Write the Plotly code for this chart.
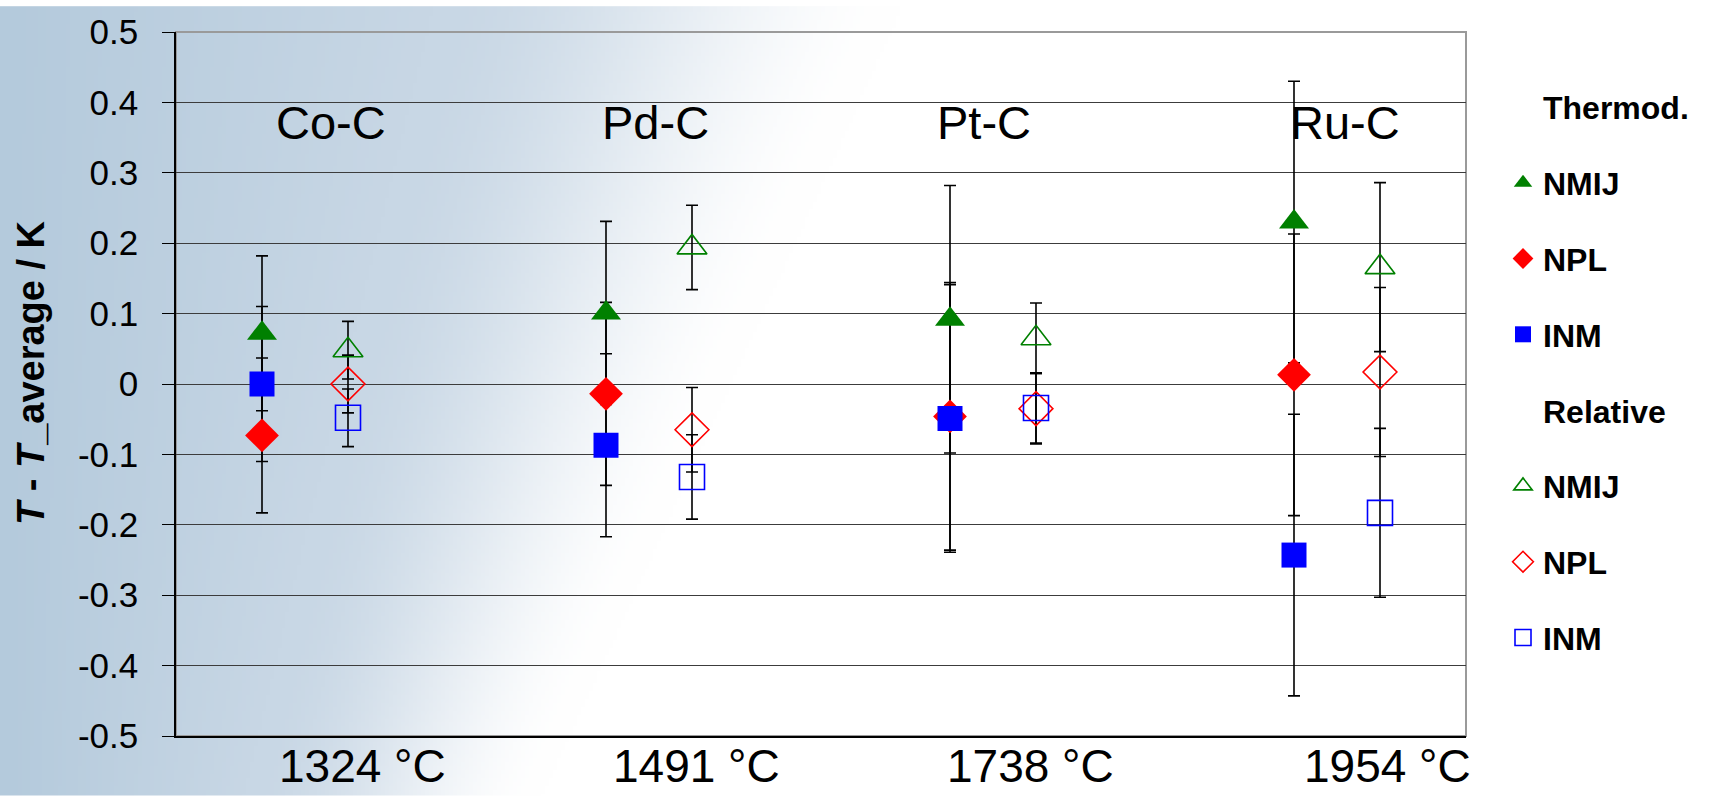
import base64
import struct
import zlib

import numpy as np
import plotly.graph_objects as go

# ---------------- data ----------------
categories = ["Co-C", "Pd-C", "Pt-C", "Ru-C"]
temperatures = ["1324 °C", "1491 °C", "1738 °C", "1954 °C"]
cat_pos = [1, 2, 3, 4]
rel_pos = [1.25, 2.25, 3.25, 4.25]

thermod_nmij = [0.072, 0.101, 0.092, 0.230]
thermod_npl = [-0.073, -0.014, -0.046, 0.013]
thermod_inm = [0.000, -0.087, -0.049, -0.243]
thermod_err = [0.110, 0.130, 0.190, 0.200]

relative_nmij = [0.048, 0.194, 0.065, 0.166]
relative_npl = [0.000, -0.065, -0.035, 0.017]
relative_inm = [-0.048, -0.132, -0.034, -0.183]
relative_err = [0.041, 0.060, 0.050, 0.120]

ytick_vals = [0.5, 0.4, 0.3, 0.2, 0.1, 0, -0.1, -0.2, -0.3, -0.4, -0.5]
ytick_text = ["0.5", "0.4", "0.3", "0.2", "0.1", "0", "-0.1", "-0.2", "-0.3", "-0.4", "-0.5"]

# label placement (style)
cat_label_x = [1.20, 2.145, 3.10, 4.148]
temp_label_x = [1.291, 2.262, 3.233, 4.273]

FONT = "Liberation Sans, Arial, Helvetica, sans-serif"
GREEN = "#008000"
RED = "#FF0000"
BLUE = "#0000FF"

W, H = 1709, 796
ML, MR, MT, MB = 176, 243, 26, 60


# ---------------- background gradient image ----------------
def make_png(arr):
    h, w, _ = arr.shape
    raw = b"".join(b"\x00" + arr[i].tobytes() for i in range(h))

    def chunk(tag, data):
        c = struct.pack(">I", len(data)) + tag + data
        return c + struct.pack(">I", zlib.crc32(tag + data) & 0xFFFFFFFF)

    png = (b"\x89PNG\r\n\x1a\n"
           + chunk(b"IHDR", struct.pack(">IIBBBBB", w, h, 8, 2, 0, 0, 0))
           + chunk(b"IDAT", zlib.compress(raw, 9))
           + chunk(b"IEND", b""))
    return "data:image/png;base64," + base64.b64encode(png).decode()


bw, bh = 428, 200
xx = np.linspace(0, W, bw)[None, :]
yy = np.linspace(0, H, bh)[:, None]
yn = yy / H
xs = 430 - 190 * yn
xe = 900 - 360 * yn
t = np.clip((xx - xs) / (xe - xs), 0, 1)
t = t * t * (3 - 2 * t)
blue0 = np.array([180, 202, 220], dtype=float)
blue1 = np.array([200, 215, 229], dtype=float)
u = np.clip(xx / xs, 0, 1)[..., None]
base = blue0 * (1 - u) + blue1 * u
white = np.array([255, 255, 255], dtype=float)
img = base * (1 - t[..., None]) + white * t[..., None]
img = np.clip(img, 0, 255).astype(np.uint8)
bg_src = make_png(img)

# ---------------- figure ----------------
fig = go.Figure()

series = [
    ("NMIJ", cat_pos, thermod_nmij, thermod_err, "triangle-up", GREEN),
    ("NPL", cat_pos, thermod_npl, thermod_err, "diamond", RED),
    ("INM", cat_pos, thermod_inm, thermod_err, "square", BLUE),
    ("NMIJ", rel_pos, relative_nmij, relative_err, "triangle-up-open", GREEN),
    ("NPL", rel_pos, relative_npl, relative_err, "diamond-open", RED),
    ("INM", rel_pos, relative_inm, relative_err, "square-open", BLUE),
]
sizes = {"triangle-up": 26, "diamond": 26, "square": 25,
         "triangle-up-open": 26, "diamond-open": 26, "square-open": 25}

# error bars first (behind every marker)
for name, xv, yv, ev, sym, col in series:
    fig.add_trace(go.Scatter(
        x=xv, y=yv, mode="markers",
        marker=dict(size=4, opacity=0),
        error_y=dict(type="data", array=ev, visible=True, color="black",
                     thickness=1.6, width=6),
        showlegend=False, hoverinfo="skip",
    ))

# legend headers + markers
rank = 1
fig.add_trace(go.Scatter(x=[None], y=[None], mode="markers", name="Thermod.",
                         marker=dict(size=1, color="rgba(0,0,0,0)",
                                     line=dict(width=0, color="rgba(0,0,0,0)")),
                         legendgroup="h1", legendrank=rank))
rank += 1
for i, (name, xv, yv, ev, sym, col) in enumerate(series):
    if i == 3:
        fig.add_trace(go.Scatter(x=[None], y=[None], mode="markers", name="Relative",
                                 marker=dict(size=1, color="rgba(0,0,0,0)",
                                             line=dict(width=0, color="rgba(0,0,0,0)")),
                                 legendgroup="h2", legendrank=rank))
        rank += 1
    marker = dict(symbol=sym, size=sizes[sym], color=col)
    if sym.endswith("open"):
        marker["line"] = dict(color=col, width=1.6)
    else:
        marker["line"] = dict(width=0)
    fig.add_trace(go.Scatter(
        x=xv, y=yv, mode="markers", name=name, marker=marker,
        legendgroup=f"g{i}", legendrank=rank,
    ))
    rank += 1

pw, ph = W - ML - MR, H - MT - MB

annotations = []
for c, lx in zip(categories, cat_label_x):
    annotations.append(dict(x=lx, y=(H - MB - 117.5) / ph, xref="x", yref="paper",
                            text=c, showarrow=False, xanchor="center", yanchor="middle",
                            font=dict(family=FONT, size=47, color="black")))
for tl, lx in zip(temperatures, temp_label_x):
    annotations.append(dict(x=lx, y=-(766 - (H - MB)) / ph, xref="x", yref="paper",
                            text=tl, showarrow=False, xanchor="center", yanchor="middle",
                            font=dict(family=FONT, size=46, color="black")))
annotations.append(dict(x=(31 - ML) / pw, y=((H - MB) - 370) / ph,
                        xref="paper", yref="paper", textangle=-90,
                        text="<b><i>T</i> - <i>T</i>_average / K</b>",
                        showarrow=False, xanchor="center", yanchor="middle",
                        font=dict(family=FONT, size=38, color="black")))

fig.update_layout(
    width=W, height=H,
    margin=dict(l=ML, r=MR, t=MT, b=MB, pad=0),
    paper_bgcolor="white",
    plot_bgcolor="rgba(0,0,0,0)",
    font=dict(family=FONT, color="black"),
    images=[dict(source=bg_src, xref="paper", yref="paper",
                 x=-ML / pw, y=1 + MT / ph, sizex=W / pw, sizey=H / ph,
                 xanchor="left", yanchor="top", sizing="stretch", layer="below")],
    shapes=[dict(type="rect", xref="paper", yref="paper", x0=0, x1=1, y0=0, y1=1,
                 line=dict(color="#9a9a9a", width=2), layer="below")],
    annotations=annotations,
    showlegend=True,
    legend=dict(x=(1503 - ML) / pw, xanchor="left", y=((H - MB) - 74) / ph, yanchor="top",
                font=dict(family=FONT, size=32, color="black", weight="bold"),
                bgcolor="rgba(0,0,0,0)", borderwidth=0, tracegroupgap=31.2,
                traceorder="grouped", itemwidth=30),
    xaxis=dict(range=[0.75, 4.5], showgrid=False, zeroline=False, showticklabels=False,
               ticks="", showline=True, linecolor="black", linewidth=1.5),
    yaxis=dict(range=[-0.5, 0.5], tickvals=ytick_vals, ticktext=ytick_text,
               showgrid=True, gridcolor="#3c3c3c", gridwidth=1, zeroline=False,
               showline=True, linecolor="black", linewidth=1.5,
               ticks="outside", ticklen=12, tickcolor="black", tickwidth=1.2,
               ticklabelstandoff=17,
               tickfont=dict(family=FONT, size=35, color="black")),
)

fig.write_html("out.html")
